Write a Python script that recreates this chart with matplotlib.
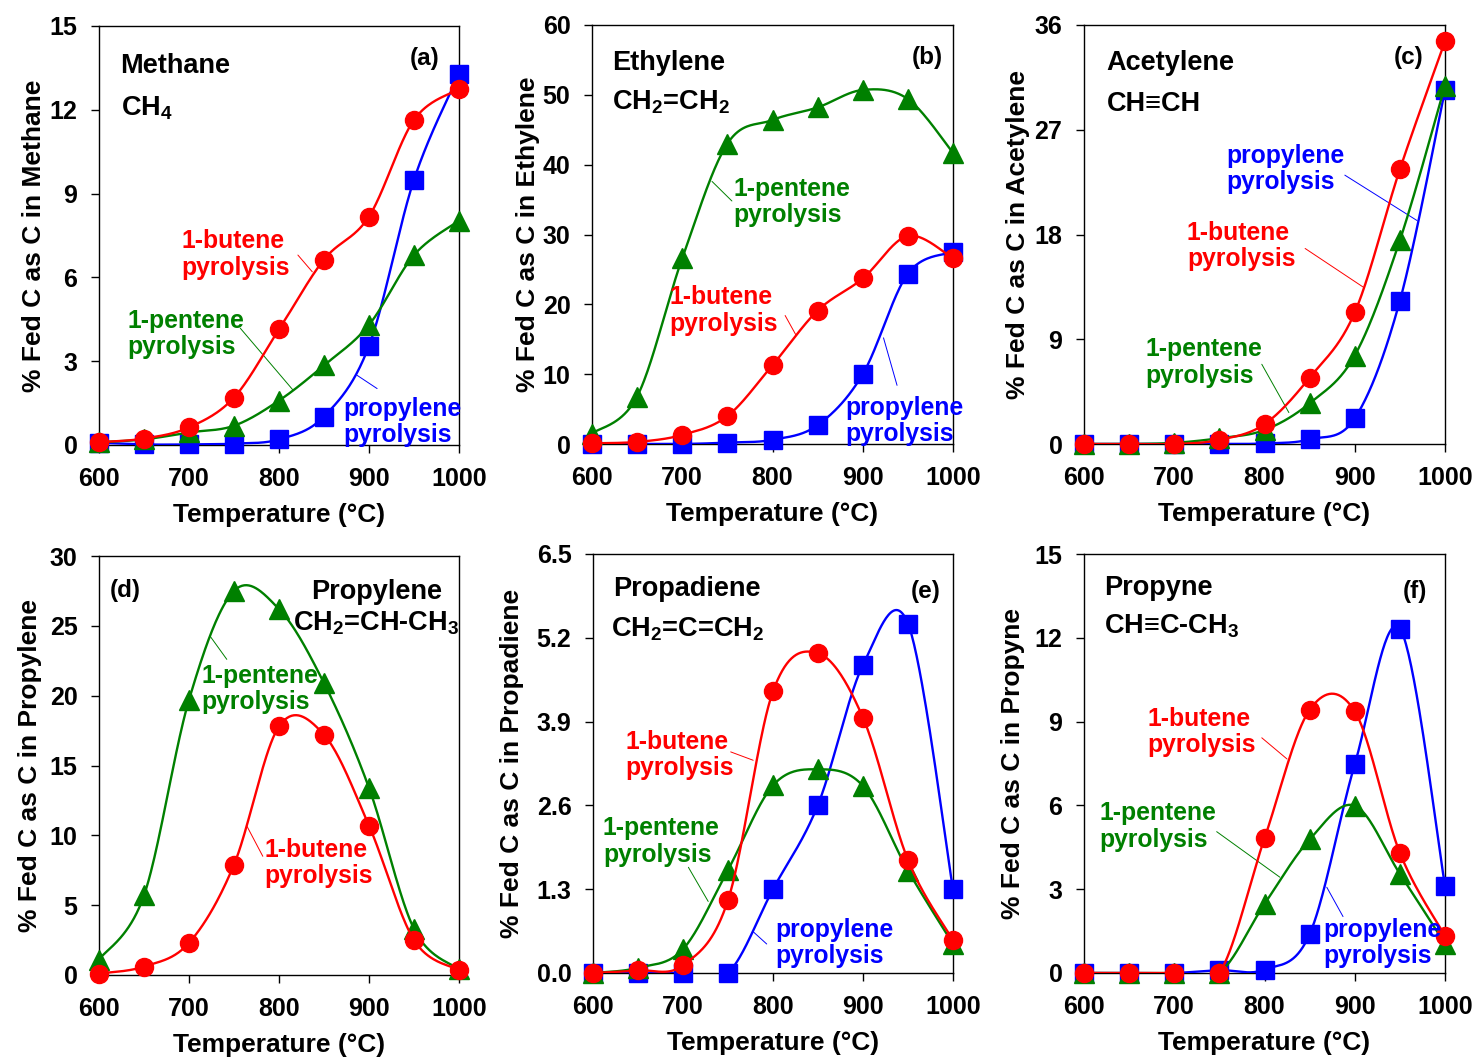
import numpy as np
import matplotlib
matplotlib.use('Agg')
import matplotlib.pyplot as plt

plt.rcParams['font.family'] = ['Liberation Sans', 'DejaVu Sans']
plt.rcParams['font.weight'] = 'bold'
plt.rcParams['mathtext.default'] = 'regular'

# Data (% of fed carbon)
temps = [600, 650, 700, 750, 800, 850, 900, 950, 1000]

methane_butene = [0.1, 0.23, 0.63, 1.7, 4.14, 6.64, 8.18, 11.64, 12.74]
methane_pentene = [0.1, 0.2, 0.45, 0.69, 1.59, 2.85, 4.3, 6.8, 8.03]
methane_propylene = [0.08, 0.02, 0.02, 0.05, 0.2, 1.02, 3.55, 9.5, 13.28]

ethylene_butene = [0.1, 0.3, 1.3, 4.0, 11.3, 19.1, 23.7, 29.8, 26.6]
ethylene_pentene = [1.5, 6.8, 26.6, 43.0, 46.4, 48.2, 50.7, 49.4, 41.7]
ethylene_propylene = [0, 0, 0, 0.2, 0.6, 2.7, 10.0, 24.4, 27.5]

acetylene_butene = [0, 0, 0, 0.35, 1.7, 5.7, 11.3, 23.6, 34.6]
acetylene_pentene = [0, 0, 0.1, 0.5, 1.2, 3.5, 7.6, 17.5, 30.8]
acetylene_propylene = [0, 0, 0, 0, 0.05, 0.4, 2.2, 12.3, 30.4]

propylene_butene = [0.1, 0.6, 2.3, 7.9, 17.8, 17.2, 10.7, 2.5, 0.35]
propylene_pentene = [1.1, 5.7, 19.7, 27.5, 26.2, 20.9, 13.4, 3.3, 0.4]

propadiene_butene = [0, 0.04, 0.12, 1.13, 4.37, 4.96, 3.96, 1.75, 0.51]
propadiene_pentene = [0, 0.08, 0.37, 1.6, 2.91, 3.16, 2.9, 1.59, 0.45]
propadiene_propylene = [0, 0, 0, 0, 1.3, 2.61, 4.78, 5.42, 1.3]

propyne_butene = [0, 0, 0, 0, 4.82, 9.42, 9.37, 4.3, 1.33]
propyne_pentene = [0, 0, 0, 0, 2.47, 4.78, 5.99, 3.55, 1.05]
propyne_propylene = [0, 0, 0, 0.1, 0.12, 1.39, 7.47, 12.33, 3.13]

RED, GREEN, BLUE = '#ff0000', '#008000', '#0000ff'
LBL = '1-butene\npyrolysis', '1-pentene\npyrolysis', 'propylene\npyrolysis'
TITLE_FS = 19.5
LABEL_FS = 17.8


def smooth(x, y, n=40):
    # Excel-style smoothed line (cubic Bezier through the points)
    pts = np.column_stack([x, y]).astype(float)
    t = np.linspace(0, 1, n)[:, None]
    out = []
    for i in range(len(pts) - 1):
        p0 = pts[max(i - 1, 0)]
        p1, p2 = pts[i], pts[i + 1]
        p3 = pts[min(i + 2, len(pts) - 1)]
        c1 = p1 + (p2 - p0) / 6
        c2 = p2 - (p3 - p1) / 6
        seg = (1 - t)**3 * p1 + 3 * (1 - t)**2 * t * c1 + 3 * (1 - t) * t**2 * c2 + t**3 * p2
        out.append(seg if i == 0 else seg[1:])
    s = np.vstack(out)
    return s[:, 0], s[:, 1]


def series(ax, y, color, marker, ms, z):
    sx, sy = smooth(temps, y)
    ax.plot(sx, sy, color=color, lw=1.7, zorder=z)
    ax.plot(temps, y, ls='none', marker=marker, ms=ms, color=color,
            zorder=z + 0.5, clip_on=False)


def label(ax, text, color, pos, line):
    ax.text(pos[0], pos[1], text, color=color, fontsize=LABEL_FS, ha='left',
            va='center', linespacing=1.12, zorder=10)
    ax.annotate('', xy=line[1], xytext=line[0],
                arrowprops=dict(arrowstyle='-', color=color, lw=0.7, shrinkA=0, shrinkB=0))


# axes boxes in pixels: left, top, right, bottom
boxes = [(99, 26, 459, 445), (592, 25, 953, 444), (1084, 25, 1445, 444),
         (99, 556, 459, 975), (593, 554, 953, 973), (1084, 554, 1445, 973)]
W, H = 1478, 1060
fig = plt.figure(figsize=(W / 100, H / 100), dpi=100)
axes = []
for l, t, r, b in boxes:
    axes.append(fig.add_axes([l / W, 1 - b / H, (r - l) / W, (b - t) / H]))

ylims = [15, 60, 36, 30, 6.5, 15]
yticks = [np.arange(0, 16, 3), np.arange(0, 61, 10), np.arange(0, 37, 9),
          np.arange(0, 31, 5), np.arange(6) * 1.3, np.arange(0, 16, 3)]
names = ['Methane', 'Ethylene', 'Acetylene', 'Propylene', 'Propadiene', 'Propyne']
ylab_off = [53, 52, 54, 57, 69, 59]

for i, ax in enumerate(axes):
    ax.set_xlim(600, 1000)
    ax.set_ylim(0, ylims[i])
    ax.set_xticks(temps[::2])
    ax.set_yticks(yticks[i])
    if i == 4:
        ax.set_yticklabels(['%.1f' % v for v in yticks[i]])
    ax.tick_params(axis='y', direction='out', length=5.5, width=1, pad=10, labelsize=18)
    ax.tick_params(axis='x', direction='out', length=6, width=1, pad=10, labelsize=18)
    for s in ax.spines.values():
        s.set_linewidth(1.0)
    ax.set_xlabel('Temperature (°C)', fontsize=19, fontweight='bold')
    ax.set_ylabel('% Fed C as C in ' + names[i], fontsize=19, fontweight='bold')
    l, t, r, b = boxes[i]
    ax.yaxis.set_label_coords(-ylab_off[i] / (r - l), 0.5)
    ax.xaxis.set_label_coords(0.5, -58 / (b - t))

# (a) Methane
ax = axes[0]
series(ax, methane_propylene, BLUE, 's', 13, 3)
series(ax, methane_pentene, GREEN, '^', 14, 4)
series(ax, methane_butene, RED, 'o', 13, 5)
ax.text(623, 13.56, 'Methane', fontsize=TITLE_FS, va='center')
ax.text(624, 12.04, 'CH$_4$', fontsize=TITLE_FS, va='center')
ax.text(978, 13.85, '(a)', fontsize=17.5, ha='right', va='center')
label(ax, LBL[0], RED, (692, 6.82), ((821, 6.8), (837, 6.2)))
label(ax, LBL[1], GREEN, (632, 3.97), ((757, 4.18), (816, 1.95)))
label(ax, LBL[2], BLUE, (871, 0.83), ((909, 2.02), (887, 2.49)))

# (b) Ethylene
ax = axes[1]
series(ax, ethylene_propylene, BLUE, 's', 13, 3)
series(ax, ethylene_pentene, GREEN, '^', 14, 4)
series(ax, ethylene_butene, RED, 'o', 13, 5)
ax.text(622, 54.5, 'Ethylene', fontsize=TITLE_FS, va='center')
ax.text(622, 48.9, 'CH$_2$=CH$_2$', fontsize=TITLE_FS, va='center')
ax.text(989, 55.4, '(b)', fontsize=17.5, ha='right', va='center')
label(ax, LBL[1], GREEN, (757, 34.7), ((755, 34.8), (733, 37.6)))
label(ax, LBL[0], RED, (686, 19.1), ((814, 18.4), (826, 15.6)))
label(ax, LBL[2], BLUE, (881, 3.3), ((938, 8.4), (923, 15.2)))

# (c) Acetylene
ax = axes[2]
series(ax, acetylene_propylene, BLUE, 's', 13, 3)
series(ax, acetylene_pentene, GREEN, '^', 14, 4)
series(ax, acetylene_butene, RED, 'o', 13, 5)
ax.text(625, 32.7, 'Acetylene', fontsize=TITLE_FS, va='center')
ax.text(625, 29.2, 'CH≡CH', fontsize=TITLE_FS, va='center')
ax.text(976, 33.2, '(c)', fontsize=17.5, ha='right', va='center')
label(ax, LBL[2], BLUE, (758, 23.6), ((889, 23.1), (969, 19.2)))
label(ax, LBL[0], RED, (714, 17.0), ((845, 16.8), (909, 13.5)))
label(ax, LBL[1], GREEN, (668, 7.0), ((797, 6.85), (827, 2.7)))

# (d) Propylene
ax = axes[3]
series(ax, propylene_pentene, GREEN, '^', 14, 4)
series(ax, propylene_butene, RED, 'o', 13, 5)
ax.text(612, 27.5, '(d)', fontsize=17.5, va='center')
ax.text(908, 27.4, 'Propylene', fontsize=TITLE_FS, ha='center', va='center')
ax.text(908, 25.2, 'CH$_2$=CH-CH$_3$', fontsize=TITLE_FS, ha='center', va='center')
label(ax, LBL[1], GREEN, (714, 20.5), ((742, 22.6), (723, 24.3)))
label(ax, LBL[0], RED, (784, 8.0), ((782, 8.5), (764, 10.7)))

# (e) Propadiene
ax = axes[4]
series(ax, propadiene_propylene, BLUE, 's', 13, 3)
series(ax, propadiene_pentene, GREEN, '^', 14, 4)
series(ax, propadiene_butene, RED, 'o', 13, 5)
ax.text(622, 5.95, 'Propadiene', fontsize=TITLE_FS, va='center')
ax.text(620, 5.34, 'CH$_2$=C=CH$_2$', fontsize=TITLE_FS, va='center')
ax.text(986, 5.92, '(e)', fontsize=17.5, ha='right', va='center')
label(ax, LBL[0], RED, (636, 3.38), ((753, 3.43), (778, 3.30)))
label(ax, LBL[1], GREEN, (611, 2.04), ((706, 1.64), (728, 1.11)))
label(ax, LBL[2], BLUE, (803, 0.47), ((793, 0.45), (778, 0.64)))

# (f) Propyne
ax = axes[5]
series(ax, propyne_propylene, BLUE, 's', 13, 3)
series(ax, propyne_pentene, GREEN, '^', 14, 4)
series(ax, propyne_butene, RED, 'o', 13, 5)
ax.text(622, 13.77, 'Propyne', fontsize=TITLE_FS, va='center')
ax.text(622, 12.4, 'CH≡C-CH$_3$', fontsize=TITLE_FS, va='center')
ax.text(980, 13.66, '(f)', fontsize=17.5, ha='right', va='center')
label(ax, LBL[0], RED, (670, 8.64), ((797, 8.42), (825, 7.66)))
label(ax, LBL[1], GREEN, (617, 5.24), ((747, 5.06), (817, 3.43)))
label(ax, LBL[2], BLUE, (865, 1.08), ((887, 2.02), (869, 3.07)))

fig.savefig('out.png', dpi=100)
